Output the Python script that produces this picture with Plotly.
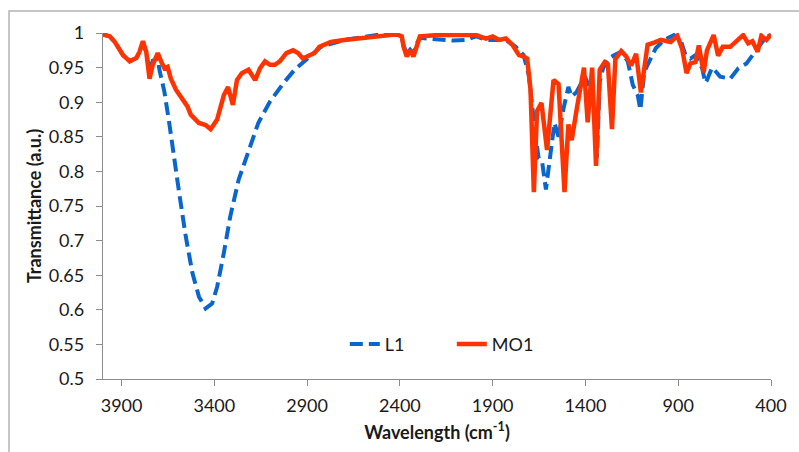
import plotly.graph_objects as go

# ---- data (wavenumber cm-1, transmittance a.u.) ----
L1_wn = [4000, 3963, 3936, 3909, 3892, 3856, 3820, 3803, 3785, 3767, 3749, 3732, 3705, 3696, 3669,
         3643, 3616, 3589, 3554, 3518, 3483, 3447, 3412, 3385, 3349, 3314, 3269, 3216, 3163, 3100,
         3029, 2967, 2896, 2825, 2700, 2523, 2416, 2390, 2380, 2363, 2345, 2327, 2309, 2292, 2256,
         2185, 2114, 2043, 1989, 1936, 1867, 1829, 1776, 1733, 1705, 1688, 1670, 1652, 1634, 1613,
         1590, 1567, 1545, 1518, 1492, 1474, 1447, 1403, 1376, 1358, 1338, 1323, 1305, 1279, 1243,
         1207, 1172, 1154, 1145, 1118, 1104, 1083, 1056, 1021, 976, 923, 887, 861, 834, 807,
         771, 754, 745, 718, 700, 674, 620, 576, 532, 487, 452, 425, 400]
L1_T = [0.998, 0.995, 0.987, 0.975, 0.968, 0.959, 0.964, 0.972, 0.985, 0.972, 0.945, 0.960, 0.963, 0.947, 0.915,
        0.870, 0.816, 0.768, 0.706, 0.653, 0.619, 0.602, 0.609, 0.633, 0.682, 0.735, 0.788, 0.831, 0.870, 0.901,
        0.927, 0.947, 0.963, 0.980, 0.990, 0.997, 0.997, 0.994, 0.982, 0.970, 0.976, 0.970, 0.985, 0.993, 0.992,
        0.990, 0.989, 0.990, 0.995, 0.990, 0.990, 0.990, 0.980, 0.968, 0.939, 0.891, 0.853, 0.819, 0.815, 0.774,
        0.828, 0.870, 0.850, 0.891, 0.922, 0.908, 0.915, 0.937, 0.920, 0.896, 0.820, 0.930, 0.949, 0.963, 0.968,
        0.973, 0.959, 0.935, 0.925, 0.910, 0.889, 0.944, 0.959, 0.978, 0.990, 0.997, 0.990, 0.968, 0.963, 0.968,
        0.949, 0.928, 0.932, 0.950, 0.945, 0.937, 0.934, 0.949, 0.956, 0.973, 0.987, 0.995, 0.997]

MO1_wn = [4000, 3963, 3936, 3909, 3892, 3856, 3820, 3803, 3785, 3767, 3749, 3732, 3705, 3687, 3669,
          3652, 3634, 3607, 3580, 3545, 3527, 3483, 3447, 3420, 3385, 3349, 3326, 3300, 3278, 3252,
          3216, 3180, 3154, 3127, 3100, 3074, 3047, 3012, 2976, 2949, 2923, 2887, 2860, 2834, 2772,
          2700, 2600, 2500, 2416, 2390, 2380, 2363, 2345, 2327, 2309, 2292, 2200, 2100, 1989, 1936,
          1900, 1865, 1829, 1794, 1758, 1732, 1714, 1696, 1678, 1661, 1637, 1607, 1572, 1545, 1513,
          1492, 1474, 1447, 1408, 1388, 1364, 1343, 1323, 1296, 1279, 1257, 1239, 1207, 1180, 1154,
          1145, 1127, 1101, 1083, 1065, 1030, 994, 941, 905, 879, 855, 834, 807, 789, 763,
          745, 709, 685, 660, 620, 585, 550, 523, 500, 472, 452, 425, 400]
MO1_T = [0.998, 0.995, 0.987, 0.975, 0.968, 0.959, 0.964, 0.973, 0.988, 0.973, 0.934, 0.954, 0.971, 0.959, 0.949,
         0.951, 0.934, 0.918, 0.908, 0.894, 0.882, 0.870, 0.867, 0.861, 0.875, 0.910, 0.922, 0.896, 0.932, 0.942,
         0.947, 0.932, 0.949, 0.959, 0.954, 0.954, 0.959, 0.971, 0.975, 0.971, 0.963, 0.968, 0.971, 0.980, 0.987,
         0.990, 0.993, 0.996, 0.998, 0.995, 0.980, 0.966, 0.975, 0.966, 0.983, 0.995, 0.997, 0.997, 0.997, 0.992,
         0.995, 0.990, 0.992, 0.983, 0.968, 0.966, 0.963, 0.918, 0.770, 0.887, 0.899, 0.831, 0.932, 0.926, 0.770,
         0.868, 0.845, 0.890, 0.950, 0.871, 0.950, 0.808, 0.947, 0.958, 0.955, 0.861, 0.962, 0.974, 0.966, 0.953,
         0.958, 0.970, 0.914, 0.955, 0.983, 0.986, 0.990, 0.987, 0.996, 0.977, 0.942, 0.956, 0.958, 0.982, 0.943,
         0.975, 0.997, 0.967, 0.980, 0.980, 0.988, 0.997, 0.985, 0.988, 0.973, 0.996, 0.990, 0.998]

x_ticks = [3900, 3400, 2900, 2400, 1900, 1400, 900, 400]
y_ticks = [0.5, 0.55, 0.6, 0.65, 0.7, 0.75, 0.8, 0.85, 0.9, 0.95, 1.0]
y_ticktext = ["0.5", "0.55", "0.6", "0.65", "0.7", "0.75", "0.8", "0.85", "0.9", "0.95", "1"]

BLUE = "#0A66CC"
RED = "#FF3300"
FONT = "Lato"
AXIS = "#8C8C8C"
TXT = "#1A1A1A"
FRAME = "#B4B4B4"

fig = go.Figure()
fig.add_trace(go.Scatter(x=L1_wn, y=L1_T, mode="lines", name="L1",
                         line=dict(color=BLUE, width=4, dash="13px,6px")))
fig.add_trace(go.Scatter(x=MO1_wn, y=MO1_T, mode="lines", name="MO1",
                         line=dict(color=RED, width=4.5)))

fig.update_layout(
    width=799, height=452,
    margin=dict(l=103, r=21, t=33, b=73),
    paper_bgcolor="white", plot_bgcolor="white",
    font=dict(family=FONT, size=18, color=TXT),
    showlegend=True,
    legend=dict(orientation="h", x=0.362, y=0.10, xanchor="left", yanchor="middle",
                bgcolor="rgba(0,0,0,0)", font=dict(family=FONT, size=18, color=TXT),
                itemwidth=30, entrywidth=62, entrywidthmode="pixels", traceorder="normal"),
    xaxis=dict(range=[4000, 400], tickvals=x_ticks, showgrid=False, zeroline=False,
               showline=True, linecolor=AXIS, linewidth=1.3, ticks="outside", ticklen=6,
               tickcolor=AXIS, tickfont=dict(family=FONT, size=18, color=TXT),
               ticklabelstandoff=4,
               title=dict(text="<b>Wavelength (cm<sup>-1</sup>)</b>", standoff=11,
                          font=dict(family=FONT, size=18, color=TXT))),
    yaxis=dict(range=[0.5, 1.0], tickvals=y_ticks, ticktext=y_ticktext, showgrid=False,
               zeroline=False, showline=True, linecolor=AXIS, linewidth=1.3, ticks="outside",
               ticklen=6, tickcolor=AXIS, tickfont=dict(family=FONT, size=18, color=TXT),
               ticklabelstandoff=8,
               title=dict(text="<b>Transmittance (a.u.)</b>", standoff=2,
                          font=dict(family=FONT, size=18, color=TXT))),
    shapes=[
        dict(type="rect", xref="paper", yref="paper", x0=-0.1407, x1=1.3, y0=-0.5, y1=1.0636,
             line=dict(color=FRAME, width=1.5), fillcolor="rgba(0,0,0,0)", layer="above"),
    ],
)

# remove the default 8px page margin so the figure fills the window exactly
fig.write_html("out.html", config={"displayModeBar": False},
               post_script="document.body.style.margin='0';document.body.style.overflow='hidden';")
